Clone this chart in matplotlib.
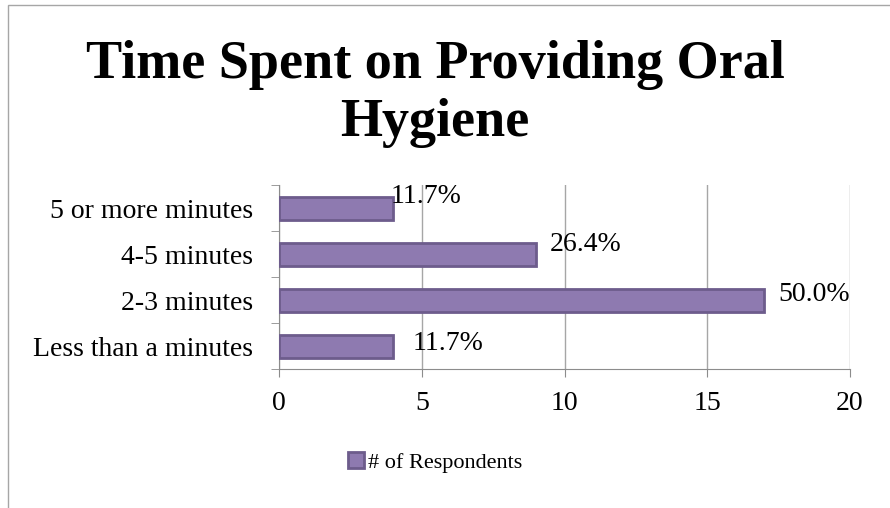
import numpy as np
import matplotlib.pyplot as plt
from matplotlib.patches import Rectangle

# data
categories = ["Less than a minutes", "2-3 minutes", "4-5 minutes", "5 or more minutes"]
respondents = [4, 17, 9, 4]
pct_labels = ["11.7%", "50.0%", "26.4%", "11.7%"]
series_name = "# of Respondents"
xticks = [0, 5, 10, 15, 20]

plt.rcParams['font.family'] = ['Liberation Serif', 'DejaVu Serif']

fig = plt.figure(figsize=(8.9, 5.08), dpi=100)
ax = fig.add_axes([0.3135, 0.2736, 0.6416, 0.3622])

# outer chart frame (only left/top visible in the crop)
fig.patches.append(Rectangle((0.009, -0.05), 1.2, 1.04, transform=fig.transFigure,
                             fill=False, edgecolor='#a6a6a6', lw=1.0))

y = np.arange(len(categories))
bars = ax.barh(y, respondents, height=0.5, color='#8e7ab0', edgecolor='#6d5c8c',
               linewidth=2.0, label=series_name, zorder=3)

# excel placed the labels slightly differently per bar (offsets in points)
label_off = [(14, 2), (10, 4), (10, 7), (-2, 8.5)]
for b, lab, off in zip(bars, pct_labels, label_off):
    ax.annotate(lab, (b.get_width(), b.get_y() + b.get_height() / 2),
                xytext=off, textcoords='offset points', ha='left', va='center',
                fontsize=20, zorder=4)

ax.set_xlim(0, 20)
ax.set_ylim(-0.5, len(categories) - 0.5)
ax.set_xticks(xticks)
ax.set_yticks(y)
ax.set_yticklabels(categories)
ax.set_yticks(np.arange(-0.5, len(categories), 1), minor=True)
ax.tick_params(axis='y', which='major', length=0, labelsize=20, pad=19)
ax.tick_params(axis='y', which='minor', length=6, color='#8c8c8c', direction='out')
ax.tick_params(axis='x', length=6, color='#8c8c8c', direction='out', labelsize=20, pad=10)

ax.grid(axis='x', color='#a6a6a6', lw=1.0, zorder=0)
for s in ['top', 'right']:
    ax.spines[s].set_visible(False)
for s in ['left', 'bottom']:
    ax.spines[s].set_color('#8c8c8c')

fig.text(0.489, 0.815, "Time Spent on Providing Oral\nHygiene", ha='center', va='center',
         fontsize=39, fontweight='bold', linespacing=1.2)

fig.legend(loc='center', bbox_to_anchor=(0.489, 0.09), frameon=False, fontsize=16,
           handlelength=0.7, handleheight=0.7, handletextpad=0.2)

fig.savefig('out.png', dpi=100)
